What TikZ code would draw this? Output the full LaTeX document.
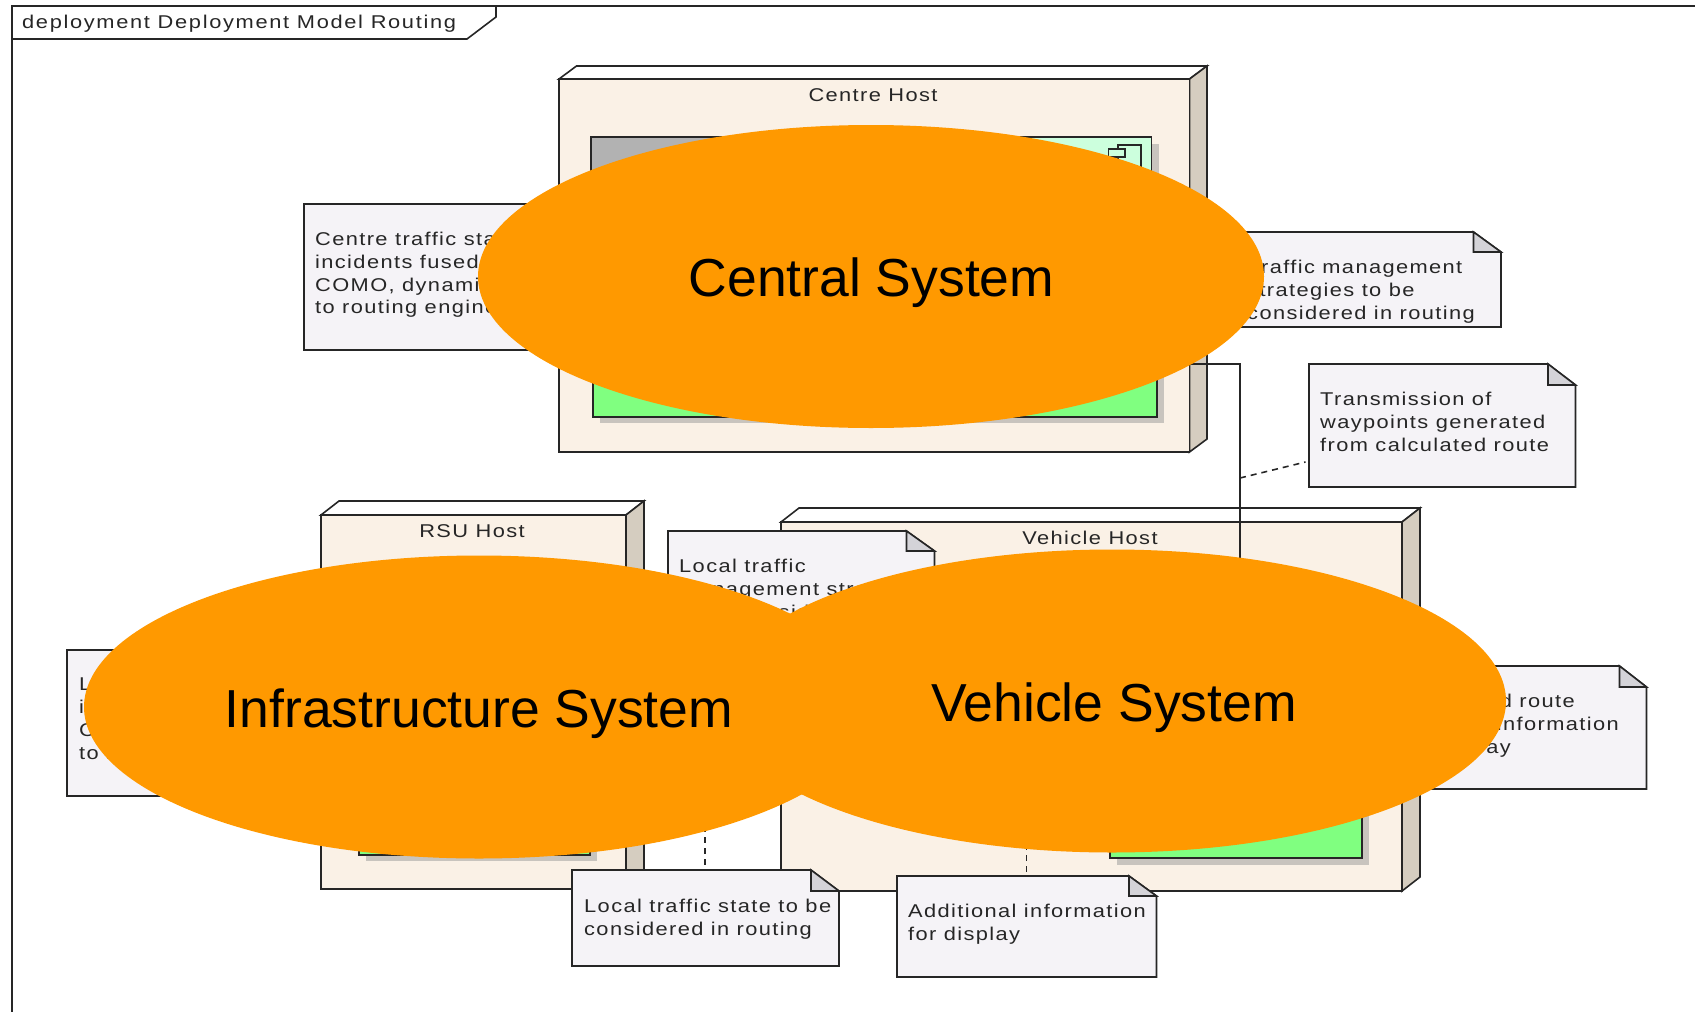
\documentclass[tikz,border=0pt]{standalone}
\usepackage{fontspec}
\usetikzlibrary{shapes.geometric}
\setmainfont{Liberation Sans}
\newfontfamily\notefont[FakeStretch=1.18,LetterSpace=7.5]{Liberation Sans}
\newfontfamily\titlefont[FakeStretch=1.18,LetterSpace=9]{Liberation Sans}
\definecolor{lineC}{HTML}{262626}
\definecolor{hostF}{HTML}{FAF1E6}
\definecolor{hostS}{HTML}{D5CDC0}
\definecolor{noteF}{HTML}{F5F3F7}
\definecolor{foldF}{HTML}{D4D3D8}
\definecolor{shadowC}{HTML}{C8C4BE}
\definecolor{compG}{HTML}{80FF80}
\definecolor{compP}{HTML}{CCFFDD}
\definecolor{compD}{HTML}{B2B2B2}
\definecolor{blobC}{HTML}{FF9900}
\tikzset{
  edge/.style={draw=lineC,line width=1.6pt,line join=miter},
  hostfront/.style={edge,fill=hostF},
  hostside/.style={edge,fill=hostS},
  hosttop/.style={edge,fill=white},
  notebody/.style={edge,fill=noteF},
  notefold/.style={edge,fill=foldF},
  notetext/.style={inner sep=0pt,anchor=north west,align=left,text=lineC,font=\notefont\fontsize{18.5}{22.7}\selectfont},
  lineright/.style={inner sep=0pt,anchor=base east,text=lineC,font=\notefont\fontsize{18.5}{22.7}\selectfont},
  hostlabel/.style={inner sep=0pt,text=lineC,font=\notefont\fontsize{18.5}{22.7}\selectfont},
  blob/.style={ellipse,fill=blobC,inner sep=0pt,minimum height=303pt},
  blobtext/.style={inner sep=0pt,font=\fontsize{53.5}{60}\selectfont,text=black},
  link/.style={draw=lineC,line width=1.8pt},
  dashlink/.style={draw=lineC,line width=1.6pt,dash pattern=on 6pt off 5pt},
}
\newcommand{\hostbox}[7]{% name, x1,y1,x2,y2, dx,dy
  \path[hosttop] (#2,#3) -- (#2+#6,#3-#7) -- (#4+#6,#3-#7) -- (#4,#3) -- cycle;
  \path[hostside] (#4,#3) -- (#4+#6,#3-#7) -- (#4+#6,#5-#7) -- (#4,#5) -- cycle;
  \path[hostfront] (#2,#3) rectangle (#4,#5);
  \coordinate (#1) at (#2,#3);
}
\newcommand{\notebox}[7]{% name, x1,y1,x2,y2, foldx,foldy
  \path[notebody] (#2,#3) -- (#6,#3) -- (#4,#7) -- (#4,#5) -- (#2,#5) -- cycle;
  \path[notefold] (#6,#3) -- (#4,#7) -- (#6,#7) -- cycle;
  \coordinate (#1) at (#2,#3);
}
\begin{document}
\begin{tikzpicture}[x=1pt,y=-1pt]
\useasboundingbox (0,0) rectangle (1695,1012);
\fill[white] (0,0) rectangle (1695,1012);
% frame
\draw[edge] (12,1012) -- (12,6) -- (1695,6);
\draw[edge] (12,39) -- (467,39) -- (496,17) -- (496,6);
\node[inner sep=0pt,anchor=base west,text=lineC,font=\titlefont\fontsize{18.5}{22}\selectfont] (frameTitle) at (22,28) {deployment Deployment Model Routing};
% Centre host
\hostbox{centreHost}{559}{79}{1189.5}{452}{17.5}{13}
\node[hostlabel] (centreLabel) at (873,95) {Centre Host};
\fill[shadowC] (598,144) rectangle (1158.5,300);
\fill[shadowC] (600,300) rectangle (1164,423);
\fill[compD] (591,137) rectangle (872,300);
\fill[compP] (872,137) rectangle (1151.5,300);
\draw[edge] (591,300) -- (591,137) -- (1151.5,137) -- (1151.5,300);
\path[edge,fill=compG] (593,300) rectangle (1157,417);
\draw[edge,fill=compP] (1118,145) rectangle (1141,185);
\draw[edge,fill=compP] (1108.5,149) rectangle (1125,157);
% RSU host
\hostbox{rsuHost}{321}{515}{626}{889}{18}{14}
\node[hostlabel] (rsuLabel) at (472,531) {RSU Host};
\fill[shadowC] (366,700) rectangle (597,861);
\path[edge,fill=compG] (359,700) rectangle (590,855);
% Vehicle host
\hostbox{vehicleHost}{781}{522}{1402}{891}{18}{14}
\node[hostlabel] (vehicleLabel) at (1090,538) {Vehicle Host};
\fill[shadowC] (1117,700) rectangle (1369,865);
\path[edge,fill=compG] (1110,700) rectangle (1362,858);
% connectors
\coordinate (routeStart) at (1189.5,364);
\coordinate (routeBend) at (1240,364);
\coordinate (routeEnd) at (1240,620);
\coordinate (routeTap) at (1240,478);
\draw[link] (routeStart) -- (routeBend) -- (routeEnd);
% notes
\notebox{noteCentre}{304}{204}{640}{350}{640}{204}
\node[notetext] (noteCentreText) at (315,232) {Centre traffic state\\incidents fused\\COMO, dynamic\\to routing engine};
\notebox{noteStrategies}{1200}{232}{1501}{327}{1473.5}{252}
\node[notetext] (noteStrategiesText) at (1247,260) {Traffic management\\strategies to be\\considered in routing};
\notebox{noteWaypoints}{1309}{364}{1575.5}{487}{1548}{385}
\node[notetext] (noteWaypointsText) at (1320,392) {Transmission of\\waypoints generated\\from calculated route};
\coordinate (wpEnd) at (1305.5,462);
\draw[dashlink] (routeTap) -- (wpEnd);
\notebox{noteLeft}{67}{650}{300}{796}{300}{650}
\node[notetext] (noteLeftText) at (79,678) {L\\i\\C\\to r};
\notebox{noteLocalMgmt}{668}{531}{934.5}{660}{906.5}{551}
\node[notetext] (noteLocalMgmtText) at (679,559) {Local traffic\\management strategies\\to be considered};
\coordinate (localTop) at (705,760);
\coordinate (localBottom) at (705,870);
\draw[dashlink] (localTop) -- (localBottom);
\notebox{noteLocalState}{572}{870}{839}{966}{811}{891}
\node[notetext] (noteLocalStateText) at (584,899) {Local traffic state to be\\considered in routing};
\coordinate (addTop) at (1026.5,800);
\coordinate (addBottom) at (1026.5,876);
\draw[dashlink] (addTop) -- (addBottom);
\notebox{noteAdditional}{897}{876}{1156.5}{977}{1129}{896}
\node[notetext] (noteAdditionalText) at (908,904) {Additional information\\for display};
\notebox{noteRoute}{1420}{666}{1646.5}{789}{1619.5}{687}
\node[lineright] (routeLineA) at (1575,707.5) {d route};
\node[lineright] (routeLineB) at (1619,730.5) {information};
\node[lineright] (routeLineC) at (1511,753.5) {ay};
% ellipses
\node[blob,minimum width=786pt] (central) at (871,276.5) {};
\node[blob,minimum width=790pt] (infra) at (479,707) {};
\node[blob,minimum width=788pt] (vehicle) at (1112,701) {};
\node[blobtext] (centralText) at (871.5,283) {Central System};
\node[blobtext] (infraText) at (479,713.5) {Infrastructure System};
\node[blobtext] (vehicleText) at (1114,708) {Vehicle System};
\end{tikzpicture}
\end{document}
